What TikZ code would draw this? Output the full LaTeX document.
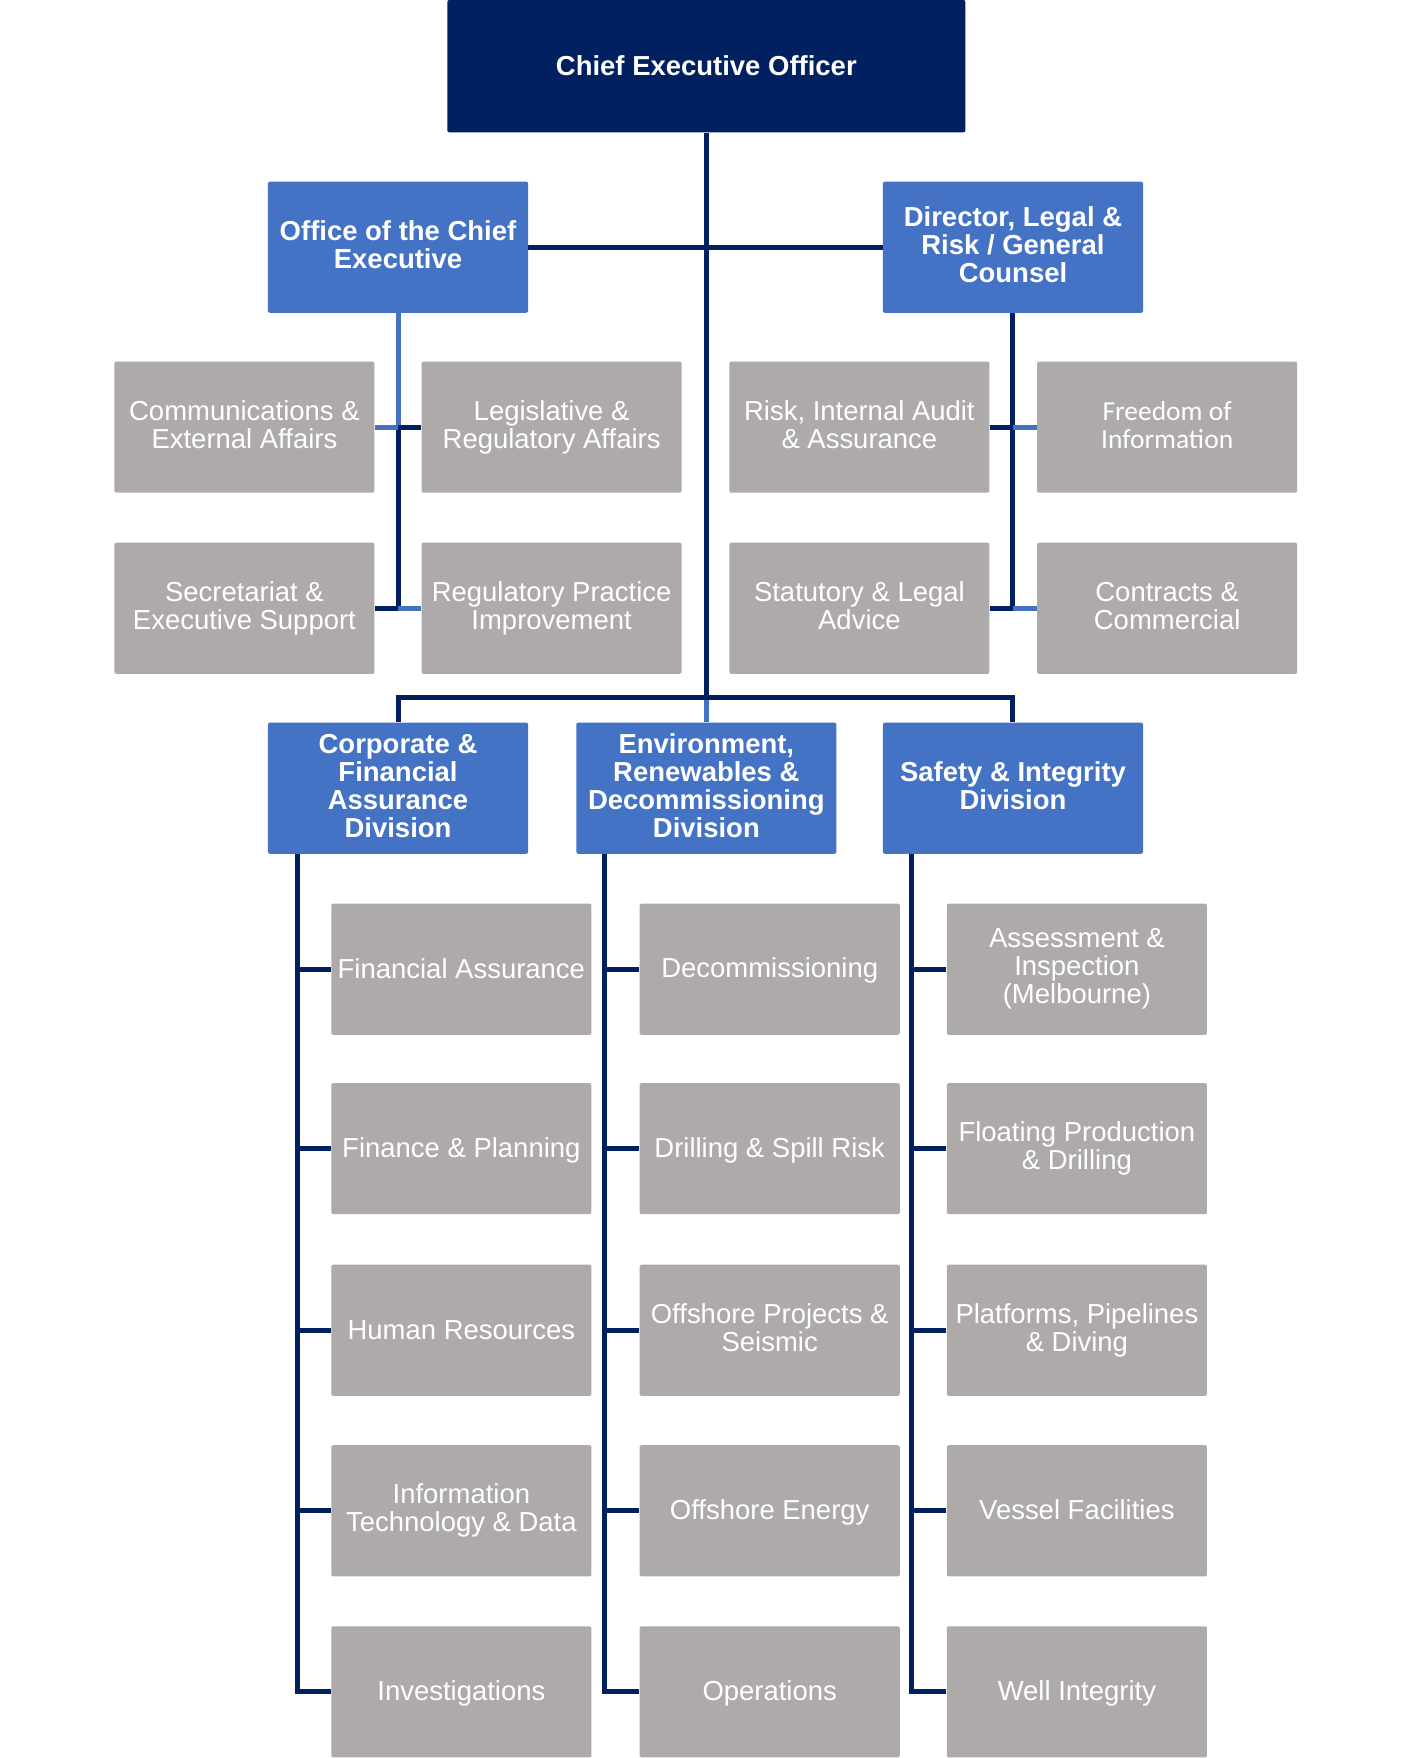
\documentclass[tikz,border=0pt]{standalone}
\usepackage{fontspec}
\setmainfont{Liberation Sans}
\newfontfamily\calfont{Carlito}
\definecolor{navy}{RGB}{0,32,96}
\definecolor{hdblue}{RGB}{68,114,196}
\definecolor{boxgrey}{RGB}{174,170,170}
\newcommand\topstr{\rule{0pt}{11.5pt}}
\newcommand\botstr{\rule[-2.5pt]{0pt}{2.5pt}}
\begin{document}
\begin{tikzpicture}[x=0.56075pt,y=-0.56075pt,
  basebox/.style={rectangle, rounded corners=1pt, inner sep=0pt, align=center, text=white,
    minimum width=130.1pt, minimum height=65.6pt, font=\fontsize{13.74}{14}\selectfont,
    execute at begin node=\topstr, execute at end node=\botstr},
  greybox/.style={basebox, fill=boxgrey},
  bluebox/.style={basebox, fill=hdblue, font=\fontsize{13.74}{14}\selectfont\bfseries},
  ceobox/.style={basebox, fill=navy, minimum width=259.1pt, minimum height=66.2pt,
    font=\fontsize{13.74}{14}\selectfont\bfseries},
  conn/.style={line width=2.5pt, draw=navy},
  lconn/.style={line width=2.5pt, draw=hdblue}]
\useasboundingbox (0,0) rectangle (1259,1568);
\fill[white] (0,0) rectangle (1259,1568);

% top
\node[ceobox] (ceo) at (630,59) {Chief Executive Officer};
\node[bluebox] (oce) at (355,220.5) {Office of the Chief\\Executive};
\node[bluebox] (dir) at (903.5,220.5) {Director, Legal \&\\Risk / General\\Counsel};

% row 1 and 2 grey
\node[greybox] (comm) at (218,381) {Communications \&\\External Affairs};
\node[greybox] (legis) at (492,381) {Legislative \&\\Regulatory Affairs};
\node[greybox] (risk) at (766.5,381) {Risk, Internal Audit\\\& Assurance};
\node[greybox, font=\fontsize{13.74}{14}\calfont] (foi) at (1041,381) {Freedom of\\Information};
\node[greybox] (sec) at (218,542.5) {Secretariat \&\\Executive Support};
\node[greybox] (regp) at (492,542.5) {Regulatory Practice\\Improvement};
\node[greybox] (stat) at (766.5,542.5) {Statutory \& Legal\\Advice};
\node[greybox] (contr) at (1041,542.5) {Contracts \&\\Commercial};

% divisions
\node[bluebox] (corp) at (355,703) {Corporate \&\\Financial\\Assurance\\Division};
\node[bluebox] (env) at (630,703) {Environment,\\Renewables \&\\Decommissioning\\Division};
\node[bluebox] (safe) at (903.5,703) {Safety \& Integrity\\Division};

% columns
\node[greybox] (fa) at (411.5,864.5) {Financial Assurance};
\node[greybox] (fp) at (411.5,1024.5) {Finance \& Planning};
\node[greybox] (hr) at (411.5,1186.5) {Human Resources};
\node[greybox] (it) at (411.5,1347.5) {Information\\Technology \& Data};
\node[greybox] (inv) at (411.5,1509) {Investigations};

\node[greybox] (dec) at (686.5,864.5) {Decommissioning};
\node[greybox] (dsr) at (686.5,1024.5) {Drilling \& Spill Risk};
\node[greybox] (ops) at (686.5,1186.5) {Offshore Projects \&\\Seismic};
\node[greybox] (oen) at (686.5,1347.5) {Offshore Energy};
\node[greybox] (oper) at (686.5,1509) {Operations};

\node[greybox] (ai) at (960.5,864.5) {Assessment \&\\Inspection\\(Melbourne)};
\node[greybox] (fpd) at (960.5,1024.5) {Floating Production\\\& Drilling};
\node[greybox] (ppd) at (960.5,1186.5) {Platforms, Pipelines\\\& Diving};
\node[greybox] (vf) at (960.5,1347.5) {Vessel Facilities};
\node[greybox] (wi) at (960.5,1509) {Well Integrity};

% junction coordinates
\coordinate (busC) at (630,622);
\coordinate (oj1) at (oce.south |- comm.east);
\coordinate (oj2) at (oce.south |- sec.east);
\coordinate (dj1) at (dir.south |- risk.east);
\coordinate (dj2) at (dir.south |- stat.east);
\coordinate (c1) at (265,762);
\coordinate (c2) at (539,762);
\coordinate (c3) at (813,762);

% connectors
\draw[conn] (ceo.south) -- (busC);
\draw[lconn] (busC) -- (env.north);
\draw[conn] (oce.east) -- (dir.west);
\draw[lconn] (oce.south) -- (oj1);
\draw[conn] (oj1) -- (oj2);
\draw[lconn] (comm.east) -- (oj1);
\draw[conn] (oj1) -- (legis.west);
\draw[conn] (sec.east) -- (oj2);
\draw[lconn] (oj2) -- (regp.west);
\draw[conn] (dir.south) -- (dj2);
\draw[conn] (risk.east) -- (dj1);
\draw[lconn] (dj1) -- (foi.west);
\draw[conn] (stat.east) -- (dj2);
\draw[lconn] (dj2) -- (contr.west);
\draw[conn] (corp.north) |- (busC) -| (safe.north);

\draw[conn] (c1) |- (inv.west);
\foreach \n in {fa,fp,hr,it} \draw[conn] (c1 |- \n.west) -- (\n.west);
\draw[conn] (c2) |- (oper.west);
\foreach \n in {dec,dsr,ops,oen} \draw[conn] (c2 |- \n.west) -- (\n.west);
\draw[conn] (c3) |- (wi.west);
\foreach \n in {ai,fpd,ppd,vf} \draw[conn] (c3 |- \n.west) -- (\n.west);
\end{tikzpicture}
\end{document}
